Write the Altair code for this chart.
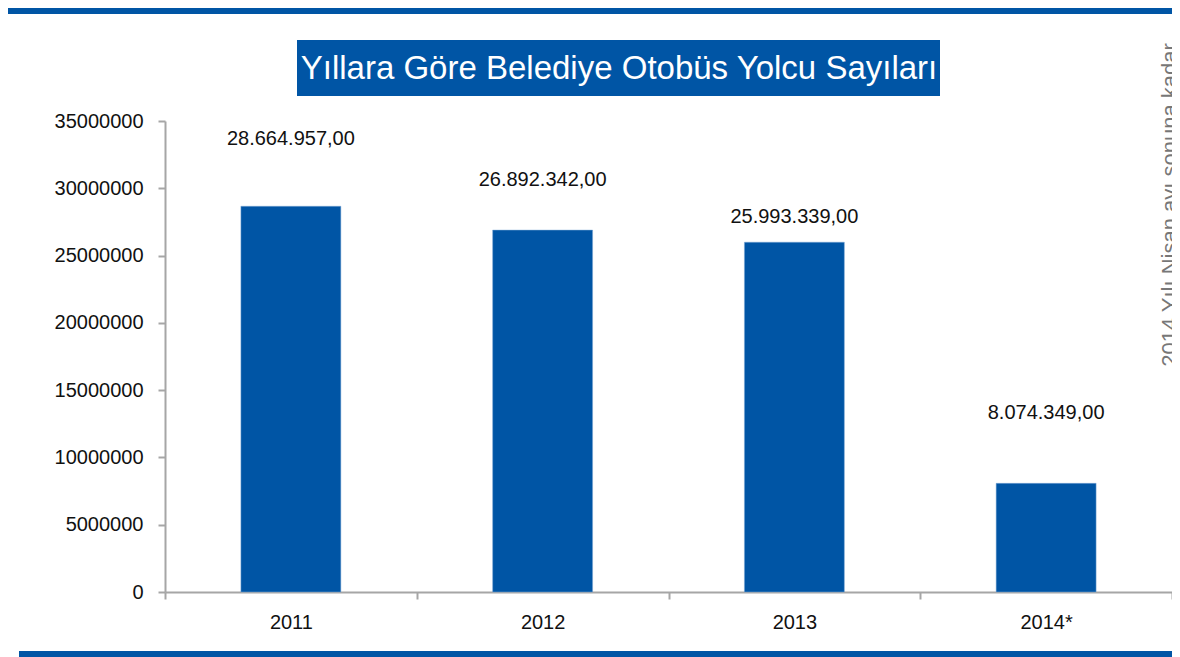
import altair as alt
import pandas as pd

years = ["2011", "2012", "2013", "2014*"]
passengers = [28664957, 26892342, 25993339, 8074349]
value_labels = ["28.664.957,00", "26.892.342,00", "25.993.339,00", "8.074.349,00"]
y_ticks = [0, 5000000, 10000000, 15000000, 20000000, 25000000, 30000000, 35000000]
title_text = "Yıllara Göre Belediye Otobüs Yolcu Sayıları"
note_text = "2014 Yılı Nisan ayı sonuna kadar"

# label offsets above bar top (pixels), styling only
label_offsets = [67, 50, 25, 70]

df = pd.DataFrame({"year": years, "value": passengers, "label": value_labels})

FONT = "Liberation Sans, Arial, sans-serif"
BLUE = "#0055A5"

W, H = 1007, 471

x_enc = alt.X("year:N", sort=years,
              scale=alt.Scale(paddingInner=0, paddingOuter=0),
              axis=alt.Axis(title=None, labelAngle=0, labelFont=FONT, labelFontSize=20,
                            labelColor="#111111", labelPadding=13,
                            domainColor="#A6A6A6", domainWidth=2,
                            tickColor="#A6A6A6", tickWidth=2, tickSize=7,
                            tickBand="extent"))
y_enc = alt.Y("value:Q", scale=alt.Scale(domain=[0, 35000000], nice=False),
              axis=alt.Axis(title=None, values=y_ticks, format="d", labelFont=FONT,
                            labelFontSize=20, labelColor="#111111", labelPadding=15,
                            domainColor="#A6A6A6", domainWidth=2,
                            tickColor="#A6A6A6", tickWidth=2, tickSize=7, grid=False))

base = alt.Chart(df)
bars = base.mark_bar(color=BLUE, stroke="#7FA8D6", strokeWidth=0.5,
                     width=alt.RelativeBandSize(0.397)).encode(x=x_enc, y=y_enc)

label_layers = []
for yr, off in zip(years, label_offsets):
    label_layers.append(
        base.transform_filter(alt.datum.year == yr)
        .mark_text(font=FONT, fontSize=20, color="#111111", dy=-off, baseline="middle")
        .encode(x=alt.X("year:N", sort=years), y="value:Q", text="label:N")
    )

deco = pd.DataFrame({"d": [0]})
dbase = alt.Chart(deco)
top_band = dbase.mark_rect(color=BLUE).encode(
    x=alt.value(-157), x2=alt.value(1010), y=alt.value(-113), y2=alt.value(-107))
bottom_band = dbase.mark_rect(color=BLUE).encode(
    x=alt.value(-146), x2=alt.value(1010), y=alt.value(530), y2=alt.value(536))
title_box = dbase.mark_rect(color=BLUE).encode(
    x=alt.value(132), x2=alt.value(775), y=alt.value(-81), y2=alt.value(-25))
title = dbase.mark_text(text=title_text, font=FONT, fontSize=33, color="white",
                        align="center", baseline="middle").encode(
    x=alt.value(454), y=alt.value(-52))
note = dbase.mark_text(text=note_text, font=FONT,
                       fontSize=22, color="#777777", angle=270,
                       align="center", baseline="alphabetic").encode(
    x=alt.value(1012), y=alt.value(84))

chart = alt.layer(bars, *label_layers, top_band, bottom_band, title_box, title, note).properties(
    width=W, height=H,
    background="white",
    autosize=alt.AutoSizeParams(type="none"),
    padding={"left": 157, "top": 113, "right": 0, "bottom": 65},
).configure_view(stroke=None)

chart.save("out.html", embed_options={"renderer": "svg", "actions": False})
